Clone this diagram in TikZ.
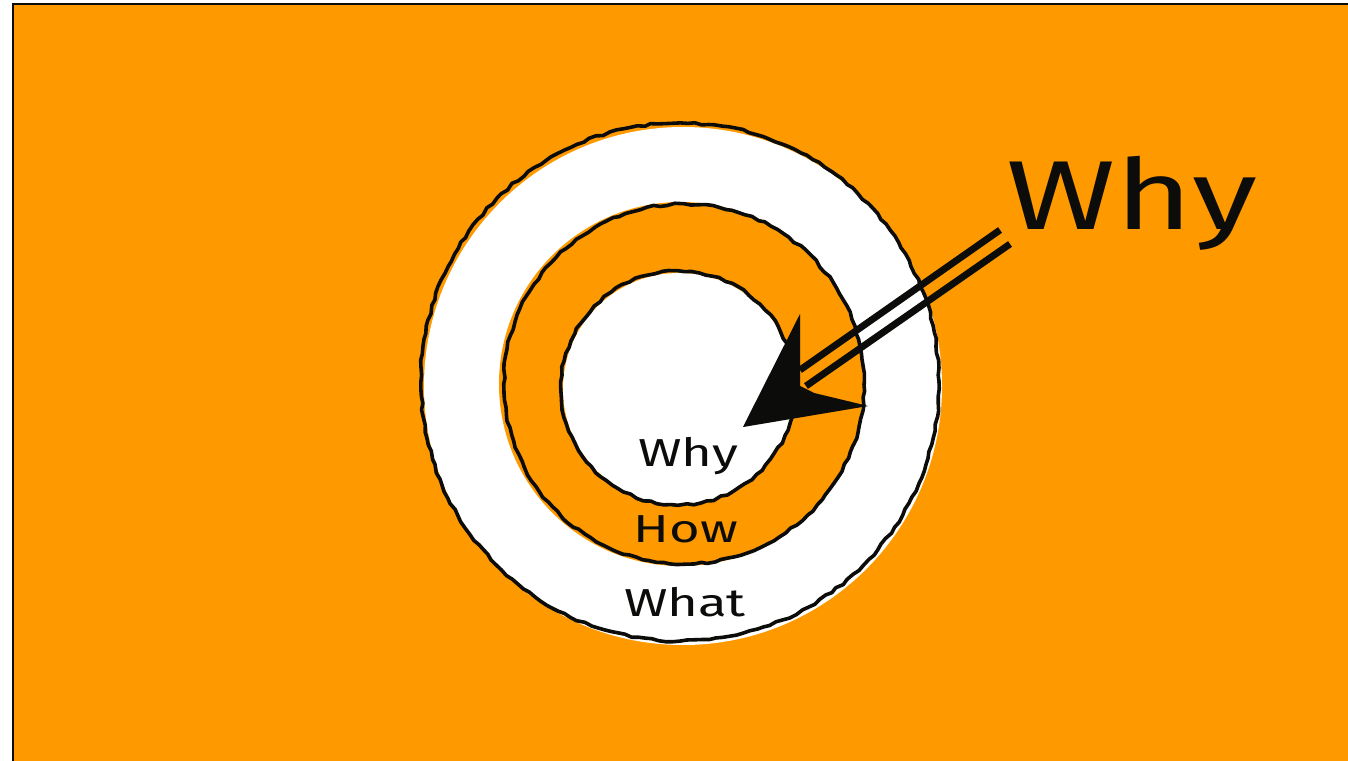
\documentclass[tikz,border=0pt]{standalone}
\usepackage{fontspec}
\newfontfamily\handfont[FakeStretch=1.35]{Fira Sans}
\usetikzlibrary{decorations.pathmorphing}
\definecolor{bgorange}{RGB}{255,153,0}
\definecolor{ink}{RGB}{12,12,10}
\tikzset{
  wobbly/.style={draw=ink, line width=3.6pt, line join=round,
    decorate, decoration={random steps, segment length=7pt, amplitude=1.1pt}},
  hand/.style={text=ink, inner sep=0pt, font=\handfont\fontsize{#1}{#1}\selectfont},
  shaft/.style={draw=ink, line width=6.8pt},
}
\begin{document}
\begin{tikzpicture}[x=1pt,y=-1pt]
\pgfmathsetseed{7}
\useasboundingbox (0,0) rectangle (1348,760);
\fill[white] (0,0) rectangle (1348,760);
\filldraw[fill=bgorange, draw=ink, line width=2.5pt] (13,4) rectangle (1360,775);
% outer ring
\fill[white] (683,386) circle (259);
\draw[wobbly] (680,382) circle (259);
% middle ring
\fill[bgorange] (681,384) circle (182);
\draw[wobbly] (684,384) circle (180);
% inner disc
\fill[white] (679,389) circle (116);
\draw[wobbly] (678,388) circle (117);
% labels
\node[hand=39, anchor=base] (why) at (688,466) {Why};
\node[hand=39, anchor=base] (how) at (686,542) {How};
\node[hand=39, anchor=base] (what) at (685,616) {What};
\node[hand=98, anchor=base] (bigwhy) at (1132,229) {Why};
% arrow
\coordinate (s1) at (1000,230);
\coordinate (e1) at (800,370);
\coordinate (s2) at (1010,244);
\coordinate (e2) at (806,386);
\coordinate (tip) at (743,427);
\coordinate (b1) at (800,314);
\coordinate (n1) at (800,386);
\coordinate (n2) at (814,393);
\coordinate (b2) at (868,406);
\begin{scope}[shift={(4,5)}, opacity=0.22]
\draw[shaft, draw=black] (s1) -- (e1);
\draw[shaft, draw=black] (s2) -- (e2);
\fill[black] (tip) -- (b1) -- (n1) -- (n2) -- (b2) -- cycle;
\end{scope}
\draw[shaft] (s1) -- (e1);
\draw[shaft] (s2) -- (e2);
\fill[ink] (tip) -- (b1) -- (n1) -- (n2) -- (b2) -- cycle;
\end{tikzpicture}
\end{document}
